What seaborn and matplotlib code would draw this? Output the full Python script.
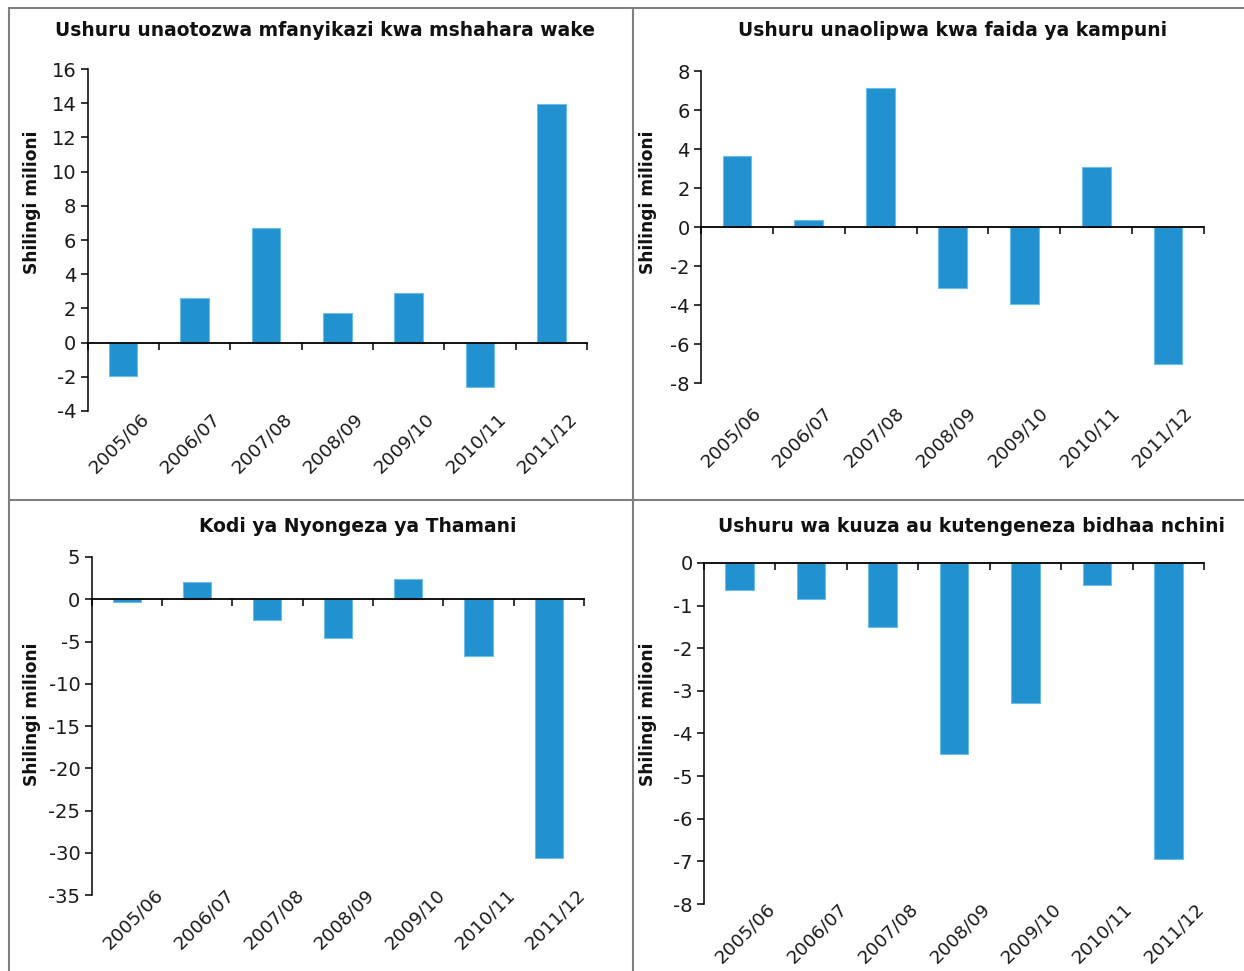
import matplotlib
matplotlib.use("Agg")
import matplotlib.pyplot as plt
import seaborn as sns
import numpy as np
import pandas as pd
from matplotlib.transforms import blended_transform_factory, ScaledTranslation
from matplotlib.lines import Line2D

# ---------------- data ----------------
years = ["2005/06", "2006/07", "2007/08", "2008/09", "2009/10", "2010/11", "2011/12"]
paye = [-1.94, 2.59, 6.71, 1.71, 2.88, -2.60, 13.96]
corporate = [3.66, 0.36, 7.11, -3.15, -3.95, 3.08, -7.03]
vat = [-0.35, 2.01, -2.45, -4.54, 2.41, -6.75, -30.6]
excise = [-0.63, -0.85, -1.49, -4.47, -3.28, -0.52, -6.94]

titles = [
    "Ushuru unaotozwa mfanyikazi kwa mshahara wake",
    "Ushuru unaolipwa kwa faida ya kampuni",
    "Kodi ya Nyongeza ya Thamani",
    "Ushuru wa kuuza au kutengeneza bidhaa nchini",
]
ylabel = "Shilingi milioni"

# ---------------- style ----------------
sns.set_theme(style="white")
plt.rcParams["font.family"] = ["DejaVu Sans"]
BAR = "#2191cf"
EDGE = "#6cbde8"
FRAME = "#808080"

W, H = 1244, 971
fig = plt.figure(figsize=(W / 100, H / 100), dpi=100)
fig.patch.set_facecolor("white")

def box(x0, x1, ytop, ybot):
    return [x0 / W, 1 - ybot / H, (x1 - x0) / W, (ybot - ytop) / H]

panels = [
    dict(vals=paye, title=titles[0], ylim=(-4, 16), step=2,
         box=(87.5, 587, 69, 411), tpos=(325, 31), ypos=(32, 202), lab=(23, 5)),
    dict(vals=corporate, title=titles[1], ylim=(-8, 8), step=2,
         box=(701, 1204, 71, 383), tpos=(953, 31), ypos=(648, 202), lab=(21, 27)),
    dict(vals=vat, title=titles[2], ylim=(-35, 5), step=5,
         box=(91.5, 584, 557, 895), tpos=(358, 526), ypos=(32, 714), lab=(34, -3)),
    dict(vals=excise, title=titles[3], ylim=(-8, 0), step=1,
         box=(704, 1204, 563, 904), tpos=(971, 526), ypos=(648, 714), lab=(33, 2)),
]

for p in panels:
    ax = fig.add_axes(box(*p["box"]))
    df = pd.DataFrame({"year": years, "value": p["vals"]})
    sns.barplot(data=df, x="year", y="value", ax=ax, color=BAR, width=0.4,
                edgecolor=EDGE, linewidth=0.8, saturation=1, errorbar=None)
    ax.set_xlim(-0.5, len(years) - 0.5)
    lo, hi = p["ylim"]
    ax.set_ylim(lo, hi)
    ticks = np.arange(lo, hi + 0.001, p["step"])
    ax.set_yticks(ticks)
    ax.set_yticklabels([f"{int(v)}" for v in ticks], fontsize=14, color="#1a1a1a")
    ax.set_xlabel("")
    ax.set_ylabel("")
    for s in ["top", "right"]:
        ax.spines[s].set_visible(False)
    ax.spines["left"].set_color("black")
    ax.spines["left"].set_linewidth(1.1)
    ax.spines["bottom"].set_position(("data", 0))
    ax.spines["bottom"].set_color("black")
    ax.spines["bottom"].set_linewidth(1.3)
    ax.set_xticks(np.arange(-0.5, len(years), 1.0))
    ax.set_xticklabels([])
    ax.tick_params(axis="x", direction="out", length=5, width=1.1, color="black",
                   bottom=True)
    ax.tick_params(axis="y", direction="out", length=5, width=1.1, color="black",
                   left=True, pad=3)
    ax.set_facecolor("white")
    ax.grid(False)
    # category labels at the bottom of the plot area
    dx, dy = p["lab"]
    tr = blended_transform_factory(ax.transData, ax.transAxes) + \
        ScaledTranslation(dx / 100, -dy / 100, fig.dpi_scale_trans)
    for i, yr in enumerate(years):
        ax.text(i, 0, yr, transform=tr, rotation=45, rotation_mode="anchor",
                ha="right", va="center", fontsize=13.3, color="#1a1a1a",
                clip_on=False)
    fig.text(p["tpos"][0] / W, 1 - p["tpos"][1] / H, p["title"], ha="center",
             va="center", fontsize=13.5, fontweight="bold", color="#111111")
    fig.text(p["ypos"][0] / W, 1 - p["ypos"][1] / H, ylabel, ha="center",
             va="center", rotation=90, fontsize=12.3, fontweight="bold",
             color="#111111")

# quadrant frame lines
def hline(y, x0, x1):
    fig.add_artist(Line2D([x0 / W, x1 / W], [1 - y / H, 1 - y / H],
                          color=FRAME, lw=1.5, transform=fig.transFigure))

def vline(x, y0, y1):
    fig.add_artist(Line2D([x / W, x / W], [1 - y0 / H, 1 - y1 / H],
                          color=FRAME, lw=1.5, transform=fig.transFigure))

hline(8, 9, W)
hline(500, 9, W)
vline(9, 8, H)
vline(633, 8, H)

fig.savefig("out.png", dpi=100, facecolor="white")
